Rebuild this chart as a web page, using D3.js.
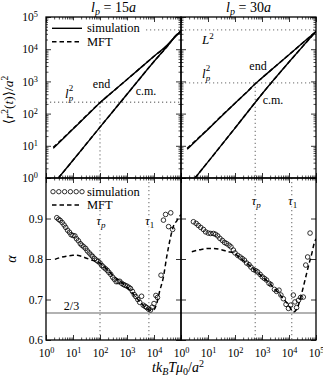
<!DOCTYPE html>
<html>
<head>
<meta charset="utf-8">
<script src="https://cdn.jsdelivr.net/npm/d3@7"></script>
<style>
  body { margin: 0; background: #fff; }
  svg text { font-family: "Liberation Serif", "DejaVu Serif", serif; }
</style>
</head>
<body>
<svg id="chart" width="323" height="377"></svg>
<script>
// ---- values (t and r^2 stored as log10 exponents) ----
var persistence = ["15", "30"];          // l_p = 15a, 30a
var decades = [0, 1, 2, 3, 4, 5];
var alphaTicks = [0.6, 0.7, 0.8, 0.9, 1.0];
var alphaLabels = [0.6, 0.7, 0.8, 0.9];
var lp2 = [225, 900];                    // l_p^2
var L2 = 40000;                          // L^2
var tauP = [100, 562];
var tau1 = [6450, 12600];
var alphaFlory = 2 / 3;

// top panels: mean square displacement, end monomer and centre of mass
var endT_15   = [0.27, 0.5, 1, 1.5, 2, 2.5, 3, 3.5, 4, 4.5, 4.8, 5];
var endSim_15 = [0.92, 1.11, 1.52, 1.93, 2.34, 2.70, 3.06, 3.42, 3.78, 4.14, 4.40, 4.56];
var endMft_15 = [0.95, 1.13, 1.53, 1.94, 2.34, 2.70, 3.06, 3.42, 3.78, 4.12, 4.41, 4.56];
var cmT_15    = [0.46, 1, 2, 3, 4, 4.5, 4.8, 5];
var cmSim_15  = [0, 0.55, 1.58, 2.6, 3.62, 4.1, 4.4, 4.56];
var cmMft_15  = [0, 0.55, 1.58, 2.6, 3.62, 4.1, 4.42, 4.56];

var endT_30   = [0.23, 0.5, 1, 1.5, 2, 2.5, 2.78, 3, 3.5, 4, 4.5, 5];
var endSim_30 = [0.89, 1.11, 1.51, 1.92, 2.32, 2.72, 2.95, 3.11, 3.47, 3.83, 4.19, 4.55];
var endMft_30 = [0.92, 1.13, 1.52, 1.93, 2.32, 2.72, 2.95, 3.11, 3.47, 3.83, 4.19, 4.55];
var cmT_30    = [0.52, 1, 2, 3, 4, 4.5, 5];
var cmSim_30  = [0, 0.5, 1.55, 2.61, 3.6, 4.08, 4.55];
var cmMft_30  = [0, 0.5, 1.55, 2.61, 3.6, 4.08, 4.55];

// bottom panels: local exponent alpha
var simT_15 = [0.40, 0.47, 0.53, 0.60, 0.67, 0.73, 0.80, 0.87, 0.93, 1.00, 1.07, 1.13, 1.20, 1.27, 1.33,
               1.40, 1.47, 1.53, 1.60, 1.67, 1.73, 1.80, 1.87, 1.93, 2.00, 2.07, 2.13, 2.20, 2.27, 2.33,
               2.40, 2.47, 2.53, 2.60, 2.67, 2.73, 2.80, 2.87, 2.93, 3.00, 3.07, 3.13, 3.20, 3.27, 3.33,
               3.40, 3.47, 3.54, 3.60, 3.67, 3.73, 3.80, 3.87, 3.93, 4.00, 4.07, 4.13, 4.26, 4.35, 4.43,
               4.54, 4.62, 4.69];
var simA_15 = [0.902, 0.898, 0.895, 0.890, 0.884, 0.878, 0.871, 0.866, 0.860, 0.858, 0.857, 0.850, 0.845, 0.838, 0.834,
               0.830, 0.826, 0.820, 0.815, 0.810, 0.806, 0.801, 0.797, 0.794, 0.790, 0.784, 0.780, 0.776, 0.772, 0.767,
               0.762, 0.755, 0.750, 0.744, 0.744, 0.745, 0.740, 0.737, 0.735, 0.733, 0.730, 0.727, 0.720, 0.712, 0.707,
               0.700, 0.693, 0.708, 0.686, 0.683, 0.680, 0.676, 0.674, 0.681, 0.690, 0.710, 0.705, 0.760, 0.896, 0.910,
               0.880, 0.914, 0.873];
var mftT_15 = [0.33, 0.5, 0.75, 1.0, 1.15, 1.3, 1.5, 1.75, 2.0, 2.25, 2.5, 2.75, 3.0, 3.25, 3.5, 3.75, 3.9, 4.0,
               4.1, 4.2, 4.35, 4.47, 4.6, 4.71, 4.85, 5.0];
var mftA_15 = [0.799, 0.803, 0.807, 0.809, 0.809, 0.807, 0.802, 0.796, 0.790, 0.775, 0.758, 0.745, 0.730, 0.712,
               0.693, 0.677, 0.673, 0.675, 0.690, 0.718, 0.756, 0.805, 0.850, 0.879, 0.895, 0.910];

var simT_30 = [0.46, 0.56, 0.64, 0.73, 0.83, 0.91, 1.01, 1.10, 1.20, 1.28, 1.36, 1.44, 1.53, 1.61, 1.69,
               1.78, 1.85, 1.94, 2.00, 2.10, 2.19, 2.27, 2.35, 2.43, 2.52, 2.59, 2.68, 2.77, 2.84, 2.93,
               3.01, 3.09, 3.17, 3.26, 3.33, 3.46, 3.54, 3.63, 3.70, 3.79, 3.89, 3.98, 4.06, 4.16, 4.22,
               4.28, 4.35, 4.43, 4.53, 4.62, 4.69, 4.78];
var simA_30 = [0.892, 0.888, 0.883, 0.878, 0.873, 0.867, 0.864, 0.863, 0.863, 0.861, 0.857, 0.851, 0.846, 0.841, 0.838,
               0.834, 0.830, 0.822, 0.815, 0.809, 0.805, 0.801, 0.797, 0.790, 0.786, 0.780, 0.774, 0.771, 0.768, 0.762,
               0.756, 0.752, 0.748, 0.740, 0.737, 0.725, 0.720, 0.723, 0.711, 0.702, 0.688, 0.678, 0.686, 0.711, 0.694,
               0.680, 0.698, 0.705, 0.706, 0.785, 0.805, 0.864];
var mftT_30 = [0.40, 0.7, 1.0, 1.2, 1.5, 1.75, 1.94, 2.2, 2.5, 2.75, 3.0, 3.25, 3.5, 3.75, 4.0, 4.16, 4.3, 4.47,
               4.6, 4.71, 4.85, 4.93, 5.0];
var mftA_30 = [0.818, 0.823, 0.826, 0.826, 0.823, 0.818, 0.815, 0.802, 0.786, 0.772, 0.757, 0.742, 0.724, 0.705,
               0.685, 0.669, 0.678, 0.715, 0.750, 0.780, 0.815, 0.838, 0.850];

// ---- layout ----
var svg = d3.select("#chart");
var pLeft = 46, pMid = 181, pRight = 316, pTop = 17, pHmid = 178, pBottom = 340;

var xs = [d3.scaleLog().domain([1, 1e5]).range([pLeft, pMid]),
          d3.scaleLog().domain([1, 1e5]).range([pMid, pRight])];
var yTop = d3.scaleLog().domain([1, 1e5]).range([pHmid, pTop]);
var yBot = d3.scaleLinear().domain([0.6, 1.0]).range([pBottom, pHmid]);

var defs = svg.append("defs");
function clip(id, x0, x1, y0, y1) {
  defs.append("clipPath").attr("id", id).append("rect")
    .attr("x", x0).attr("y", y0).attr("width", x1 - x0).attr("height", y1 - y0);
  return svg.append("g").attr("clip-path", "url(#" + id + ")");
}

var dotted = "#888";
function hline(g, x, y, v) {
  g.append("line").attr("x1", x.range()[0]).attr("x2", x.range()[1])
    .attr("y1", y(v)).attr("y2", y(v))
    .attr("stroke", dotted).attr("stroke-width", 1.3).attr("stroke-dasharray", "1.2,2.8");
}
function vline(g, x, v, y0, y1) {
  g.append("line").attr("x1", x(v)).attr("x2", x(v)).attr("y1", y0).attr("y2", y1)
    .attr("stroke", dotted).attr("stroke-width", 1.3).attr("stroke-dasharray", "1.2,2.8");
}

function logLine(x, y) {
  return d3.line()
    .x(function(d) { return x(Math.pow(10, d[0])); })
    .y(function(d) { return y(Math.pow(10, d[1])); })
    .curve(d3.curveMonotoneX);
}
function alphaLine(x) {
  return d3.line()
    .x(function(d) { return x(Math.pow(10, d[0])); })
    .y(function(d) { return yBot(d[1]); })
    .curve(d3.curveMonotoneX);
}

var topData = [
  {end: [endT_15, endSim_15, endMft_15], cm: [cmT_15, cmSim_15, cmMft_15]},
  {end: [endT_30, endSim_30, endMft_30], cm: [cmT_30, cmSim_30, cmMft_30]}
];
var botData = [
  {simT: simT_15, simA: simA_15, mftT: mftT_15, mftA: mftA_15},
  {simT: simT_30, simA: simA_30, mftT: mftT_30, mftA: mftA_30}
];

// ---- panels ----
xs.forEach(function(x, i) {
  var x0 = x.range()[0], x1 = x.range()[1];

  // top: MSD
  var gt = clip("ct" + i, x0, x1, pTop, pHmid);
  hline(gt, x, yTop, lp2[i]);
  hline(gt, x, yTop, L2);
  vline(gt, x, tauP[i], yTop(lp2[i]), pHmid);

  var lt = logLine(x, yTop);
  [topData[i].end, topData[i].cm].forEach(function(c) {
    gt.append("path").datum(d3.zip(c[0], c[1])).attr("d", lt)
      .attr("fill", "none").attr("stroke", "#000").attr("stroke-width", 1.4);
    gt.append("path").datum(d3.zip(c[0], c[2])).attr("d", lt)
      .attr("fill", "none").attr("stroke", "#000").attr("stroke-width", 1.5)
      .attr("stroke-dasharray", "4.5,2.5");
  });

  // bottom: alpha
  var gb = clip("cb" + i, x0, x1, pHmid, pBottom);
  vline(gb, x, tauP[i], pHmid, pBottom);
  vline(gb, x, tau1[i], pHmid, pBottom);
  gb.append("line").attr("x1", x0).attr("x2", x1)
    .attr("y1", yBot(alphaFlory)).attr("y2", yBot(alphaFlory))
    .attr("stroke", "#999").attr("stroke-width", 1.3);

  var b = botData[i];
  gb.append("path").datum(d3.zip(b.mftT, b.mftA)).attr("d", alphaLine(x))
    .attr("fill", "none").attr("stroke", "#000").attr("stroke-width", 1.5)
    .attr("stroke-dasharray", "4.5,3");
  gb.selectAll("circle.sim").data(d3.zip(b.simT, b.simA)).enter().append("circle")
    .attr("class", "sim")
    .attr("cx", function(d) { return x(Math.pow(10, d[0])); })
    .attr("cy", function(d) { return yBot(d[1]); })
    .attr("r", 2.3)
    .attr("fill", "none").attr("stroke", "#000").attr("stroke-width", 0.8);
});

// ---- frames and ticks ----
function isDecade(d) { var l = Math.log10(d); return Math.abs(l - Math.round(l)) < 1e-9; }

function ticksOn(g, axis, scale, majors, minors) {
  g.append("g").call(axis(scale).tickValues(majors).tickSize(-5).tickFormat(""))
    .call(function(s) { s.select(".domain").remove(); })
    .selectAll("line").attr("stroke-width", 0.8);
  if (minors.length)
    g.append("g").call(axis(scale).tickValues(minors).tickSize(-2.5).tickFormat(""))
      .call(function(s) { s.select(".domain").remove(); })
      .selectAll("line").attr("stroke-width", 0.7);
}

var frame = svg.append("g");
xs.forEach(function(x, i) {
  var x0 = x.range()[0], x1 = x.range()[1];
  var xMaj = x.ticks().filter(isDecade), xMin = x.ticks().filter(function(d) { return !isDecade(d); });
  var yMaj = yTop.ticks().filter(isDecade), yMin = yTop.ticks().filter(function(d) { return !isDecade(d); });

  [[pTop, pHmid, yTop, yMaj, yMin], [pHmid, pBottom, yBot, alphaTicks, []]].forEach(function(p) {
    var y0 = p[0], y1 = p[1];
    frame.append("rect").attr("x", x0).attr("y", y0).attr("width", x1 - x0).attr("height", y1 - y0)
      .attr("fill", "none").attr("stroke", "#000").attr("stroke-width", 1.3);
    ticksOn(frame.append("g").attr("transform", "translate(0," + y1 + ")"), d3.axisBottom, x, xMaj, xMin);
    ticksOn(frame.append("g").attr("transform", "translate(0," + y0 + ")"), d3.axisTop, x, xMaj, xMin);
    ticksOn(frame.append("g").attr("transform", "translate(" + x0 + ",0)"), d3.axisLeft, p[2], p[3], p[4]);
    ticksOn(frame.append("g").attr("transform", "translate(" + x1 + ",0)"), d3.axisRight, p[2], p[3], p[4]);
  });
});

// ---- tick labels ----
function powText(sel, exp) {
  sel.append("tspan").text("10");
  sel.append("tspan").attr("dy", "-0.45em").attr("font-size", "0.72em").text(exp);
}
function cleanAxis(s) { s.select(".domain").remove(); s.selectAll("line").remove(); }

xs.forEach(function(x, i) {
  var vals = decades.filter(function(d) { return i === 1 || d < 5; }).map(function(d) { return Math.pow(10, d); });
  var g = svg.append("g").attr("transform", "translate(0," + pBottom + ")")
    .call(d3.axisBottom(x).tickValues(vals).tickSize(0).tickPadding(9).tickFormat(""))
    .call(cleanAxis).attr("font-size", 11.5).attr("font-family", null);
  g.selectAll(".tick text").each(function(d) { powText(d3.select(this), Math.round(Math.log10(d))); });
});

var gy = svg.append("g").attr("transform", "translate(" + pLeft + ",0)")
  .call(d3.axisLeft(yTop).tickValues(decades.map(function(d) { return Math.pow(10, d); }))
    .tickSize(0).tickPadding(8).tickFormat(""))
  .call(cleanAxis).attr("font-size", 11.5).attr("font-family", null);
gy.selectAll(".tick text").each(function(d) { powText(d3.select(this), Math.round(Math.log10(d))); });

svg.append("g").attr("transform", "translate(" + pLeft + ",0)")
  .call(d3.axisLeft(yBot).tickValues(alphaLabels).tickSize(0).tickPadding(3).tickFormat(d3.format(".1f")))
  .call(cleanAxis).attr("font-size", 11.5).attr("font-family", null);

// ---- titles and axis labels ----
xs.forEach(function(x, i) {
  var t = svg.append("text").attr("x", (x.range()[0] + x.range()[1]) / 2).attr("y", 12)
    .attr("text-anchor", "middle").attr("font-size", 14);
  t.append("tspan").attr("font-style", "italic").text("l");
  t.append("tspan").attr("font-style", "italic").attr("font-size", 10).attr("dy", 3).text("p");
  t.append("tspan").attr("dy", -3).text(" = " + persistence[i]);
  t.append("tspan").attr("font-style", "italic").text("a");
});

var yl = svg.append("text").attr("transform", "translate(13,100) rotate(-90)")
  .attr("text-anchor", "middle").attr("font-size", 13.5);
yl.append("tspan").text("\u27E8");
yl.append("tspan").attr("font-style", "italic").text("r");
yl.append("tspan").attr("font-size", 9.5).attr("dy", -5).text("2");
yl.append("tspan").attr("dy", 5).text("(");
yl.append("tspan").attr("font-style", "italic").text("t");
yl.append("tspan").text(")\u27E9/");
yl.append("tspan").attr("font-style", "italic").text("a");
yl.append("tspan").attr("font-size", 9.5).attr("dy", -5).text("2");

svg.append("text").attr("transform", "translate(16,259) rotate(-90)")
  .attr("text-anchor", "middle").attr("font-size", 14).attr("font-style", "italic").text("\u03B1");

var xl = svg.append("text").attr("x", 178).attr("y", 372).attr("text-anchor", "middle")
  .attr("font-size", 14).attr("font-style", "italic");
xl.append("tspan").text("tk");
xl.append("tspan").attr("font-size", 10).attr("dy", 3).text("B");
xl.append("tspan").attr("dy", -3).text("T\u03BC");
xl.append("tspan").attr("font-size", 10).attr("dy", 3).attr("font-style", "normal").text("0");
xl.append("tspan").attr("dy", -3).attr("font-style", "normal").text("/");
xl.append("tspan").text("a");
xl.append("tspan").attr("font-size", 10).attr("dy", -5).attr("font-style", "normal").text("2");

// ---- annotations ----
function lp2Label(x, y) {
  var t = svg.append("text").attr("x", x).attr("y", y).attr("font-size", 13).attr("font-style", "italic");
  t.append("tspan").text("l");
  t.append("tspan").attr("font-size", 9).attr("dy", 3).text("p");
  t.append("tspan").attr("font-size", 9).attr("font-style", "normal").attr("dx", -4.5).attr("dy", -10).text("2");
}
function plain(x, y, s, size) {
  return svg.append("text").attr("x", x).attr("y", y).attr("text-anchor", "middle")
    .attr("font-size", size || 12).text(s);
}
lp2Label(65, 98);
lp2Label(202, 78);
var L2t = svg.append("text").attr("x", 202).attr("y", 44).attr("font-size", 13).attr("font-style", "italic");
L2t.append("tspan").text("L");
L2t.append("tspan").attr("font-size", 9).attr("font-style", "normal").attr("dy", -5).text("2");

plain(101.5, 88, "end");
plain(146, 95, "c.m.");
plain(258, 70, "end");
plain(273, 104, "c.m.");

function tauLabel(x, y, sub) {
  var t = svg.append("text").attr("x", x).attr("y", y).attr("text-anchor", "middle")
    .attr("font-size", 12.5).attr("font-style", "italic")
    .attr("stroke", "#fff").attr("stroke-width", 3).attr("paint-order", "stroke");
  t.append("tspan").text("\u03C4");
  t.append("tspan").attr("font-size", 9).attr("dy", 2.5)
    .attr("font-style", sub === "1" ? "normal" : "italic").text(sub);
}
tauLabel(xs[0](tauP[0]) + 1, 225, "p");
tauLabel(xs[0](tau1[0]) + 1, 225, "1");
tauLabel(xs[1](tauP[1]) + 1, 205, "p");
tauLabel(xs[1](tau1[1]) + 1, 205, "1");

plain(71.5, 310, "2/3", 12);

// ---- legends ----
function legend(y0, marker) {
  var g = svg.append("g");
  g.append("rect").attr("x", 48).attr("y", y0 - 8).attr("width", 96).attr("height", 25).attr("fill", "#fff");
  if (marker === "line") {
    g.append("line").attr("x1", 52).attr("x2", 82).attr("y1", y0).attr("y2", y0)
      .attr("stroke", "#000").attr("stroke-width", 1.4);
  } else {
    g.selectAll("circle").data(d3.range(6)).enter().append("circle")
      .attr("cx", function(d) { return 53 + d * 5.8; }).attr("cy", y0).attr("r", 2.2)
      .attr("fill", "none").attr("stroke", "#000").attr("stroke-width", 0.8);
  }
  g.append("line").attr("x1", 52).attr("x2", 82).attr("y1", y0 + 13.4).attr("y2", y0 + 13.4)
    .attr("stroke", "#000").attr("stroke-width", 1.5).attr("stroke-dasharray", "4.5,3");
  g.append("text").attr("x", 87).attr("y", y0 + 3.8).attr("font-size", 12.5).text("simulation");
  g.append("text").attr("x", 87).attr("y", y0 + 17.2).attr("font-size", 12.5).text("MFT");
}
legend(28.3, "line");
legend(191.7, "circles");
</script>
</body>
</html>
